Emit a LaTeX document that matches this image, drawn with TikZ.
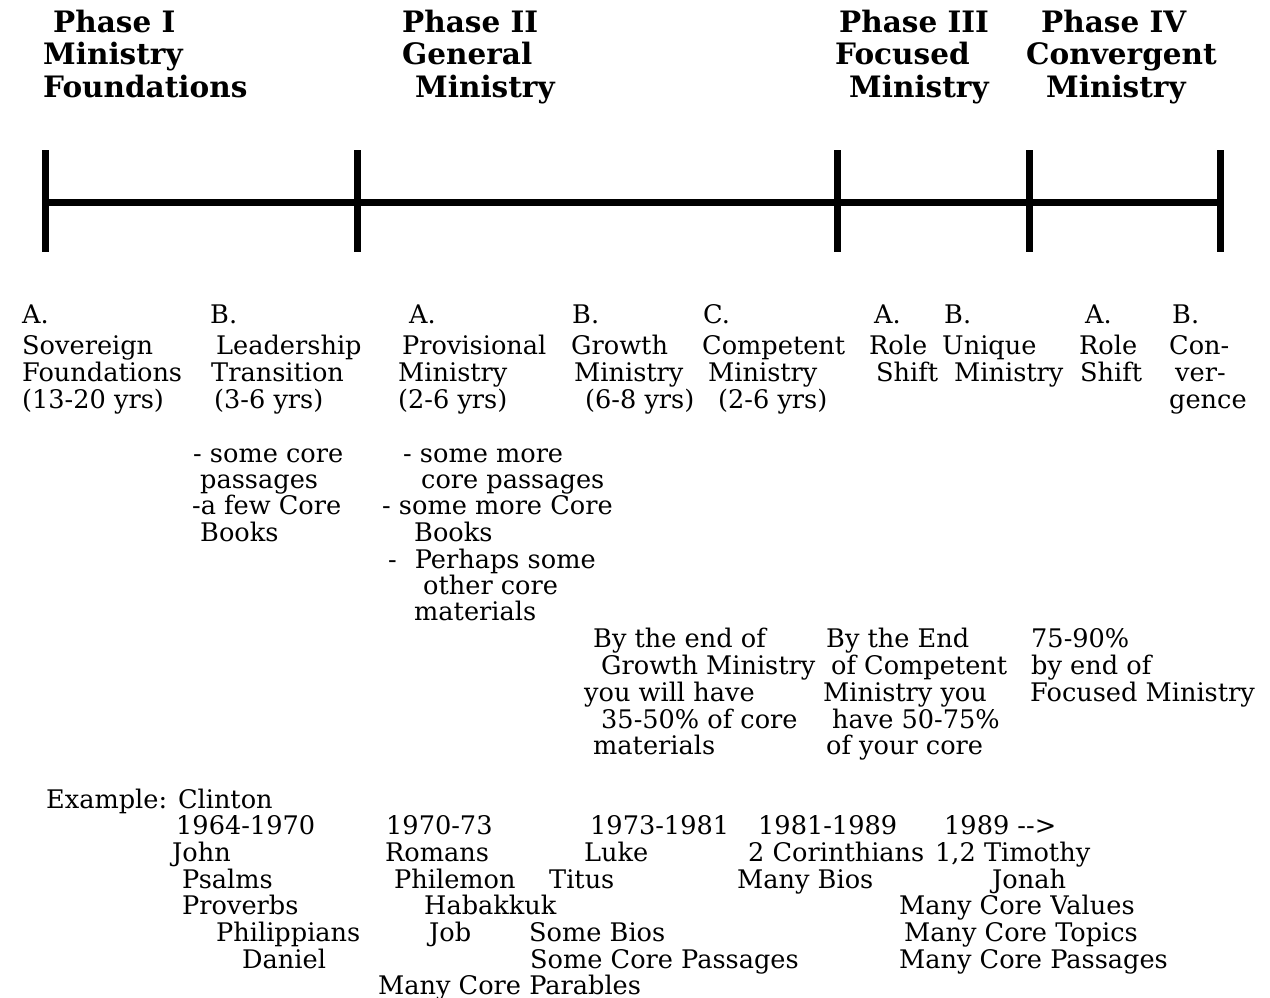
\documentclass[tikz,border=0pt]{standalone}
\usepackage{fontspec}
\newfontfamily\rfont{DejaVu Serif}
\newfontfamily\hfont{DejaVu Serif Bold}
\tikzset{
  txt/.style={anchor=base west,inner sep=0pt,font=\rfont\fontsize{25.6}{27}\selectfont},
  head/.style={anchor=base west,inner sep=0pt,font=\hfont\fontsize{29.5}{32}\selectfont},
  bar/.style={line width=7pt,line cap=butt}
}
% name, x, y(center), text
\newcommand\Tx[4]{\node[txt] (#1) at (#2,#3+9) {#4};}
\newcommand\Hd[4]{\node[head] (#1) at (#2,#3+10) {#4};}
\begin{document}
\begin{tikzpicture}[x=1pt,y=-1pt]
\useasboundingbox (0,0) rectangle (1270,998);
% timeline
\coordinate (m0) at (45,202);
\coordinate (m1) at (357,202);
\coordinate (m2) at (837,202);
\coordinate (m3) at (1029,202);
\coordinate (m4) at (1220,202);
\draw[bar] (m0) -- (m4);
\foreach \m in {m0,m1,m2,m3,m4}{
  \draw[bar] ([yshift=52pt]\m) -- ([yshift=-50pt]\m);
}
% headings
\Hd{h1a}{53}{23}{Phase I}
\Hd{h1b}{43}{55}{Ministry}
\Hd{h1c}{43}{87}{Foundations}
\Hd{h2a}{402}{23}{Phase II}
\Hd{h2b}{402}{55}{General}
\Hd{h2c}{415}{87}{Ministry}
\Hd{h3a}{839}{23}{Phase III}
\Hd{h3b}{835}{55}{Focused}
\Hd{h3c}{849}{87}{Ministry}
\Hd{h4a}{1041}{23}{Phase IV}
\Hd{h4b}{1026}{55}{Convergent}
\Hd{h4c}{1046}{87}{Ministry}
% sub-phases
\Tx{s1a}{22}{314}{A.}
\Tx{s1b}{22}{345}{Sovereign}
\Tx{s1c}{22}{372}{Foundations}
\Tx{s1d}{22}{399}{(13-20 yrs)}
\Tx{s2a}{210}{314}{B.}
\Tx{s2b}{216}{345}{Leadership}
\Tx{s2c}{211}{372}{Transition}
\Tx{s2d}{214}{399}{(3-6 yrs)}
\Tx{s3a}{409}{314}{A.}
\Tx{s3b}{402}{345}{Provisional}
\Tx{s3c}{398}{372}{Ministry}
\Tx{s3d}{398}{399}{(2-6 yrs)}
\Tx{s4a}{572}{314}{B.}
\Tx{s4b}{571}{345}{Growth}
\Tx{s4c}{574}{372}{Ministry}
\Tx{s4d}{585}{399}{(6-8 yrs)}
\Tx{s5a}{703}{314}{C.}
\Tx{s5b}{702}{345}{Competent}
\Tx{s5c}{708}{372}{Ministry}
\Tx{s5d}{718}{399}{(2-6 yrs)}
\Tx{s6a}{874}{314}{A.}
\Tx{s6b}{869}{345}{Role}
\Tx{s6c}{876}{372}{Shift}
\Tx{s7a}{944}{314}{B.}
\Tx{s7b}{942}{345}{Unique}
\Tx{s7c}{954}{372}{Ministry}
\Tx{s8a}{1085}{314}{A.}
\Tx{s8b}{1079}{345}{Role}
\Tx{s8c}{1080}{372}{Shift}
\Tx{s9a}{1172}{314}{B.}
\Tx{s9b}{1169}{345}{Con-}
\Tx{s9c}{1175}{372}{ver-}
\Tx{s9d}{1169}{399}{gence}
% core lists
\Tx{c1a}{193}{453}{- some core}
\Tx{c1b}{200}{479}{passages}
\Tx{c1c}{192}{505}{-a few Core}
\Tx{c1d}{200}{532}{Books}
\Tx{c2a}{403}{453}{- some more}
\Tx{c2b}{421}{479}{core passages}
\Tx{c2c}{382}{505}{- some more Core}
\Tx{c2d}{414}{532}{Books}
\Tx{c2e}{388}{559}{-\hspace{18pt}Perhaps some}
\Tx{c2f}{423}{585}{other core}
\Tx{c2g}{414}{611}{materials}
% percentages
\Tx{p1a}{593}{638}{By the end of}
\Tx{p1b}{601}{665}{Growth Ministry}
\Tx{p1c}{584}{692}{you will have}
\Tx{p1d}{601}{719}{35-50\% of core}
\Tx{p1e}{593}{745}{materials}
\Tx{p2a}{826}{638}{By the End}
\Tx{p2b}{831}{665}{of Competent}
\Tx{p2c}{823}{692}{Ministry you}
\Tx{p2d}{832}{719}{have 50-75\%}
\Tx{p2e}{826}{745}{of your core}
\Tx{p3a}{1031}{638}{75-90\%}
\Tx{p3b}{1031}{665}{by end of}
\Tx{p3c}{1030}{692}{Focused Ministry}
% example
\Tx{e0}{46}{799}{Example: Clinton}
\Tx{e1a}{176}{825}{1964-1970}
\Tx{e1b}{172}{852}{John}
\Tx{e1c}{182}{879}{Psalms}
\Tx{e1d}{182}{905}{Proverbs}
\Tx{e1e}{216}{932}{Philippians}
\Tx{e1f}{242}{959}{Daniel}
\Tx{e2a}{386}{825}{1970-73}
\Tx{e2b}{385}{852}{Romans}
\Tx{e2c}{394}{879}{Philemon}
\Tx{e2d}{424}{905}{Habakkuk}
\Tx{e2e}{429}{932}{Job}
\Tx{e2f}{378}{985}{Many Core Parables}
\Tx{e3a}{590}{825}{1973-1981}
\Tx{e3b}{584}{852}{Luke}
\Tx{e3c}{549}{879}{Titus}
\Tx{e3d}{529}{932}{Some Bios}
\Tx{e3e}{530}{959}{Some Core Passages}
\Tx{e4a}{758}{825}{1981-1989}
\Tx{e4b}{748}{852}{2 Corinthians}
\Tx{e4c}{737}{879}{Many Bios}
\Tx{e5a}{944}{825}{1989 -->}
\Tx{e5b}{935}{852}{1,2 Timothy}
\Tx{e5c}{992}{879}{Jonah}
\Tx{e5d}{899}{905}{Many Core Values}
\Tx{e5e}{904}{932}{Many Core Topics}
\Tx{e5f}{899}{959}{Many Core Passages}
\end{tikzpicture}
\end{document}
